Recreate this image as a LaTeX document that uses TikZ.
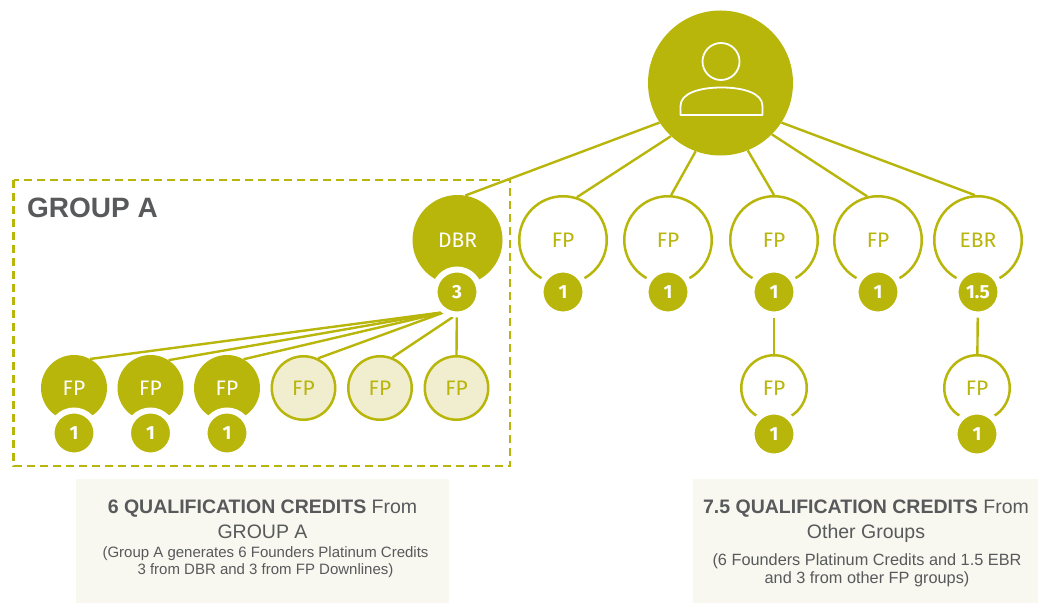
\documentclass[tikz,border=0pt]{standalone}
\usepackage{fontspec}
\setmainfont{Liberation Sans}
\newfontfamily\firafont{Fira Sans}
\usetikzlibrary{backgrounds}
\definecolor{grn}{RGB}{184,181,11}
\definecolor{lightgrn}{RGB}{240,238,207}
\definecolor{boxbg}{RGB}{248,248,240}
\definecolor{txtgray}{RGB}{88,89,91}
\begin{document}
\begin{tikzpicture}[x=1pt,y=-1pt,
  link/.style={draw=grn, line width=2.4pt},
  topopen/.style={circle, draw=grn, line width=2.5pt, fill=white, minimum size=87.5pt, inner sep=0pt, text=grn, font=\firafont\fontsize{21}{21}\selectfont},
  topfill/.style={circle, fill=grn, minimum size=90pt, inner sep=0pt, text=white, font=\firafont\fontsize{21}{21}\selectfont},
  badge/.style={circle, fill=grn, draw=white, line width=6pt, minimum size=45pt, inner sep=0pt, text=white, font=\firafont\bfseries\fontsize{19}{19}\selectfont},
  lowfill/.style={circle, fill=grn, minimum size=66pt, inner sep=0pt, text=white, font=\firafont\fontsize{21}{21}\selectfont},
  lowlight/.style={circle, fill=lightgrn, draw=grn, line width=2.5pt, minimum size=63.5pt, inner sep=0pt, text=grn, font=\firafont\fontsize{21}{21}\selectfont},
  lowopen/.style={circle, fill=white, draw=grn, line width=2.5pt, minimum size=65.5pt, inner sep=0pt, text=grn, font=\firafont\fontsize{21}{21}\selectfont},
  headtxt/.style={text=txtgray, font=\fontsize{19.5}{19.5}\selectfont, anchor=base},
  subtxt/.style={text=txtgray, font=\fontsize{15}{15}\selectfont, anchor=base},
  subtxtb/.style={text=txtgray, font=\fontsize{16.3}{16.3}\selectfont, anchor=base}
]
\useasboundingbox (0,0) rectangle (1038,604);

% info boxes
\fill[boxbg] (76,479) rectangle (449,603);
\fill[boxbg] (693,479) rectangle (1038,603);

% group A frame
\draw[grn, line width=2.5pt, dash pattern=on 8pt off 5pt] (13.5,180) rectangle (510,466);
\node[anchor=base west, text=txtgray, font=\bfseries\fontsize{28}{28}\selectfont, inner sep=0pt] (grouplbl) at (27,218) {GROUP A};

% top person
\node[circle, fill=grn, minimum size=145pt, inner sep=0pt] (person) at (720.5,83) {};
\draw[white, line width=1.8pt] (721,61.5) circle[radius=18.5pt];
\draw[white, line width=1.8pt, line join=round] (680.5,115) -- (680.5,106) .. controls (680.5,93) and (700,87.5) .. (721.5,87.5) .. controls (743,87.5) and (762.5,93) .. (762.5,106) -- (762.5,115) -- cycle;

% first level
\node[topfill] (dbr) at (457.5,240) {DBR};
\node[topopen] (fpa) at (563,240) {FP};
\node[topopen] (fpb) at (668,240) {FP};
\node[topopen] (fpc) at (774,240) {FP};
\node[topopen] (fpd) at (878,240) {FP};
\node[topopen] (ebr) at (978,240) {EBR};

\node[badge] (b3) at (457,292) {3};
\node[badge] (ba) at (563,292) {1};
\node[badge] (bb) at (668,292) {1};
\node[badge] (bc) at (774,292) {1};
\node[badge] (bd) at (878,292) {1};
\node[badge] (be) at (978,292) {1.5};

% right lower level
\node[lowopen] (fpc2) at (774,388) {FP};
\node[badge] (bc2) at (774,434) {1};
\node[lowopen] (ebr2) at (977,388) {FP};
\node[badge] (be2) at (977,434) {1};

% group A lower row
\node[lowfill] (g1) at (74,388) {FP};
\node[lowfill] (g2) at (150.5,388) {FP};
\node[lowfill] (g3) at (227,388) {FP};
\node[lowlight] (g4) at (303.5,388) {FP};
\node[lowlight] (g5) at (380,388) {FP};
\node[lowlight] (g6) at (456.5,388) {FP};
\node[badge] (gb1) at (74,433) {1};
\node[badge] (gb2) at (150.5,433) {1};
\node[badge] (gb3) at (227,433) {1};

\coordinate (c1) at (445,312);
\coordinate (c2) at (453,317);

\begin{pgfonlayer}{background}
  \draw[link] (person.213.5) -- (dbr.80);
  \draw[link] (person.227) -- (fpa.72);
  \draw[link] (person.250.5) -- (fpb.86);
  \draw[link] (person.292.4) -- (fpc.90);
  \draw[link] (person.315.3) -- (fpd.104);
  \draw[link] (person.327.6) -- (ebr.94);
  \draw[link] (bc) -- (fpc2);
  \draw[link] (be) -- (ebr2);
  \draw[link] (c1) -- (g1.61);
  \draw[link] (c1) -- (g2.57);
  \draw[link] (c1) -- (g3.60);
  \draw[link] (c1) -- (g4.64);
  \draw[link] (c2) -- (g5.68);
  \draw[link] (b3.center) -- (g6.90);
\end{pgfonlayer}

% text in boxes
\node[headtxt] (h1) at (262.5,513) {\textbf{6 QUALIFICATION CREDITS} From};
\node[headtxt] (h1b) at (262.5,538) {GROUP A};
\node[subtxt] (s1) at (265.5,557) {(Group A generates 6 Founders Platinum Credits};
\node[subtxt] (s1b) at (265.5,574) {3 from DBR and 3 from FP Downlines)};

\node[headtxt] (h2) at (866,513) {\textbf{7.5 QUALIFICATION CREDITS} From};
\node[headtxt] (h2b) at (866,538) {Other Groups};
\node[subtxtb] (s2) at (867,565) {(6 Founders Platinum Credits and 1.5 EBR};
\node[subtxtb] (s2b) at (867,583) {and 3 from other FP groups)};
\end{tikzpicture}
\end{document}
